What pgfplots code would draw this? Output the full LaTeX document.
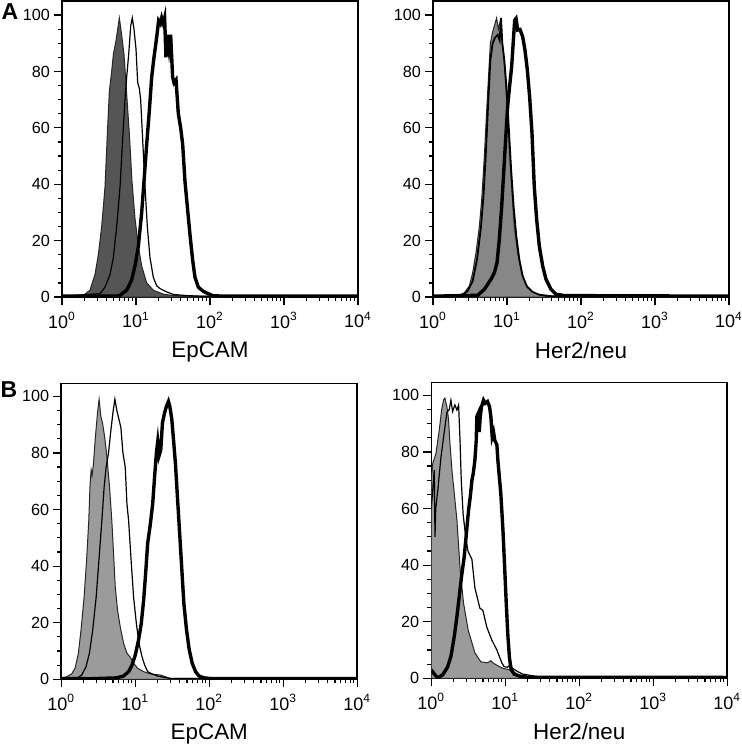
\documentclass[border=0pt]{standalone}
\usepackage{fontspec}
\setmainfont{Liberation Sans}
\usepackage{pgfplots}
\pgfplotsset{compat=1.18}
\definecolor{fillA}{RGB}{85,85,85}
\definecolor{fillB}{RGB}{135,135,135}
\definecolor{fillC}{RGB}{155,155,155}
\pgfplotsset{
 facs/.style={
  scale only axis, width=148pt, height=148pt,
  anchor=south west,
  xmin=0, xmax=4, ymin=0,
  xtick={0,1,2,3,4},
  xticklabels={10\textsuperscript{0},10\textsuperscript{1},10\textsuperscript{2},10\textsuperscript{3},10\textsuperscript{4}},
  minor xtick={0.301,0.477,0.602,0.699,0.778,0.845,0.903,0.954,
               1.301,1.477,1.602,1.699,1.778,1.845,1.903,1.954,
               2.301,2.477,2.602,2.699,2.778,2.845,2.903,2.954,
               3.301,3.477,3.602,3.699,3.778,3.845,3.903,3.954},
  ytick={0,20,40,60,80,100}, minor y tick num=3,
  tick pos=left, tick align=outside,
  major tick length=4pt, minor tick length=2pt,
  tick style={black, line width=0.6pt},
  axis line style={line width=0.8pt},
  /pgf/number format/assume math mode=true,
  yticklabel style={font=\fontsize{8.1}{10}\selectfont, xshift=1.5pt},
  xticklabel style={font=\fontsize{9}{11}\selectfont},
  xlabel style={font=\fontsize{11.2}{13}\selectfont},
 },
 fillcurve/.style={draw=black!85, line width=0.5pt, fill=#1},
 thincurve/.style={black, line width=0.6pt},
 thickcurve/.style={black, line width=1.7pt},
}
\begin{document}
\begin{tikzpicture}
\path[use as bounding box] (0,0) rectangle (371pt,373pt);
% ---------- Top left ----------
\begin{axis}[facs, at={(31pt,224.5pt)}, ymax=105, xlabel={EpCAM}]
\addplot[fillcurve=fillA] coordinates {(0,0.3) (0.018,0.3) (0.288,0.6) (0.378,2.4) (0.446,8) (0.491,15) (0.536,25) (0.581,39) (0.613,58) (0.640,73) (0.671,80) (0.694,86) (0.730,91) (0.775,99) (0.806,93) (0.838,86) (0.874,72) (0.910,58) (0.946,41) (0.986,28) (1.032,18) (1.077,11) (1.144,5) (1.234,2.4) (1.369,1) (1.505,0.5) (1.775,0.3) (4,0.3)} \closedcycle;
\addplot[thincurve] coordinates {(0,0.3) (0.514,1.2) (0.581,3.5) (0.649,8) (0.694,14) (0.739,25) (0.784,39) (0.820,56) (0.851,70) (0.874,78) (0.901,86) (0.928,96) (0.950,99) (0.973,95) (1.000,88) (1.023,76) (1.045,74) (1.063,70) (1.090,56) (1.122,39) (1.153,25) (1.189,14) (1.234,7) (1.279,4) (1.324,3) (1.414,1.8) (1.505,0.9) (1.685,0.5) (1.865,0.3) (4,0.3)};
\addplot[thickcurve] coordinates {(0,0.3) (0.739,0.3) (0.784,0.6) (0.874,2.4) (0.941,6) (0.986,11) (1.032,18) (1.077,30) (1.108,41) (1.144,54) (1.180,66) (1.212,78) (1.243,85) (1.279,92) (1.306,98) (1.329,97) (1.347,99) (1.369,97) (1.387,99) (1.405,85) (1.423,93) (1.446,88) (1.468,93) (1.495,78) (1.514,76) (1.541,77) (1.572,65) (1.604,60) (1.631,54) (1.662,41) (1.694,32) (1.730,22) (1.766,13) (1.797,7) (1.842,3.5) (1.910,2) (1.977,1.2) (2.045,0.4) (2.315,0.3) (4,0.3)};
\end{axis}
% ---------- Top right ----------
\begin{axis}[facs, at={(216.5pt,224.5pt)}, ymax=105, xlabel={Her2/neu}]
\addplot[fillcurve=fillB] coordinates {(0,0.3) (0.356,0.7) (0.423,1.5) (0.491,3.9) (0.536,8.6) (0.581,15.7) (0.626,25) (0.658,34.5) (0.694,50) (0.725,66) (0.752,79) (0.775,90) (0.806,94) (0.838,97) (0.860,99) (0.883,95) (0.910,98) (0.928,92) (0.955,86) (0.977,78) (1.000,68) (1.032,52) (1.068,37) (1.099,25) (1.144,15.7) (1.198,8.6) (1.257,4.5) (1.324,2.1) (1.414,0.9) (1.550,0.3) (4,0.3)} \closedcycle;
\addplot[black, line width=0.9pt] coordinates {(0,0.3) (0.401,0.7) (0.468,2.1) (0.536,5.7) (0.595,13.3) (0.649,25) (0.685,37) (0.716,52) (0.748,70) (0.775,84) (0.806,90) (0.838,92) (0.874,93) (0.901,91) (0.919,99) (0.937,90) (0.964,84) (0.991,75) (1.018,63) (1.054,46) (1.090,32) (1.126,21.6) (1.167,13.3) (1.212,7.4) (1.270,3.7) (1.347,1.8) (1.437,0.8) (1.595,0.3) (4,0.3)};
\addplot[thickcurve] coordinates {(0,0.3) (0.604,0.6) (0.694,2.7) (0.784,6.3) (0.829,8.6) (0.865,12.1) (0.896,20.4) (0.928,32) (0.955,44) (0.982,56) (1.009,67.6) (1.036,75) (1.063,81.7) (1.086,91) (1.104,98.2) (1.122,98.8) (1.144,94.7) (1.176,94.9) (1.212,92.3) (1.243,87.6) (1.275,80.5) (1.306,71) (1.338,58) (1.369,39) (1.401,27.5) (1.437,18) (1.482,11) (1.527,6.3) (1.595,2.7) (1.662,1) (1.775,0.5) (4,0.3)};
\end{axis}
% ---------- Bottom left ----------
\begin{axis}[facs, at={(30.65pt,33.35pt)}, ymax=104.6, xlabel={EpCAM}]
\addplot[fillcurve=fillC] coordinates {(0,0.4) (0.072,0.9) (0.140,1.9) (0.186,3.9) (0.231,9.2) (0.267,17.5) (0.308,29) (0.344,43) (0.371,56) (0.389,69) (0.403,74) (0.416,72) (0.434,76) (0.462,86) (0.489,94) (0.511,99) (0.534,93) (0.557,90.6) (0.584,86) (0.615,79) (0.652,68) (0.683,56) (0.706,44.6) (0.729,32.8) (0.760,24.5) (0.796,18.6) (0.842,12.7) (0.887,9.2) (0.932,7.8) (0.977,5.7) (1.032,3.9) (1.113,2.7) (1.204,1.9) (1.339,1.5) (1.407,0.9) (1.475,0.3) (4,0.3)} \closedcycle;
\addplot[thincurve] coordinates {(0,0.3) (0.208,0.35) (0.276,1.5) (0.335,4.5) (0.380,9.2) (0.425,17.5) (0.471,29) (0.511,43) (0.548,56) (0.579,68) (0.606,75) (0.638,80) (0.670,88) (0.697,94) (0.724,99) (0.751,95) (0.778,92) (0.805,89) (0.833,80) (0.864,75) (0.887,62) (0.910,56) (0.941,43) (0.977,29) (1.014,19.8) (1.050,12.7) (1.090,8) (1.127,5) (1.167,2.7) (1.226,1.9) (1.294,1.2) (1.385,0.7) (1.475,0.3) (4,0.3)};
\addplot[thickcurve] coordinates {(0,0.3) (0.389,0.2) (0.751,0.5) (0.842,1.2) (0.910,2.7) (0.955,5) (1.000,8.6) (1.045,14) (1.081,19.8) (1.113,28) (1.140,37.5) (1.167,48) (1.204,55) (1.235,62) (1.262,72) (1.285,80) (1.303,84) (1.321,79) (1.344,81) (1.367,90.6) (1.394,94) (1.421,96.5) (1.448,98.2) (1.466,96.5) (1.493,92) (1.520,83.5) (1.543,76) (1.575,62) (1.602,50.5) (1.629,38.7) (1.656,26.9) (1.692,17.5) (1.729,10.4) (1.769,5.7) (1.814,2.7) (1.860,1.2) (1.928,0.5) (2.018,0.3) (4,0.3)};
\end{axis}
% ---------- Bottom right ----------
\begin{axis}[facs, at={(215.65pt,33.85pt)}, ymax=104.6, xlabel={Her2/neu}]
\addplot[fillcurve=fillC] coordinates {(0,70) (0.020,76) (0.063,79.5) (0.108,87.8) (0.139,94.8) (0.166,98.4) (0.184,99) (0.211,96) (0.234,91.3) (0.252,83) (0.279,73.6) (0.346,56) (0.391,38) (0.436,26.5) (0.499,17) (0.589,9) (0.670,5.8) (0.760,5.5) (0.805,6.2) (0.841,5.3) (0.895,4.5) (0.970,3.5) (1.075,2.9) (1.143,1.8) (1.210,0.8) (1.300,0.5) (4,0.3)} \closedcycle;
\addplot[thincurve] coordinates {(0,60) (0.040,73.6) (0.050,50) (0.060,60) (0.090,67) (0.130,78) (0.175,87) (0.211,94) (0.243,95) (0.265,98.3) (0.288,94.3) (0.319,96.6) (0.346,94.8) (0.369,96.6) (0.387,85) (0.405,70) (0.430,58) (0.465,50) (0.495,45) (0.549,42) (0.589,32) (0.656,24.8) (0.697,24) (0.751,18) (0.818,13.5) (0.886,10) (0.954,5.4) (0.985,4.1) (1.030,3.9) (1.066,4.7) (1.098,3.5) (1.165,2.4) (1.233,1.5) (1.300,1.2) (1.435,0.6) (1.525,0.35) (4,0.3)};
\addplot[thickcurve] coordinates {(0,3) (0.040,1.5) (0.085,0.2) (0.153,1.2) (0.220,4) (0.265,7.7) (0.310,14.7) (0.346,21.8) (0.378,29) (0.409,36) (0.445,43) (0.477,52) (0.504,59.5) (0.526,64) (0.549,70) (0.567,72.4) (0.589,77) (0.607,84) (0.616,92.5) (0.634,93.6) (0.648,87) (0.661,92.5) (0.679,96) (0.706,98.3) (0.729,97.2) (0.760,97.8) (0.787,96) (0.805,92.5) (0.823,85.4) (0.841,87) (0.859,84) (0.886,82.6) (0.900,77) (0.940,65) (0.967,53) (0.990,40) (1.012,27) (1.035,15) (1.057,7) (1.080,3) (1.120,1.5) (1.188,0.8) (1.300,0.35) (4,0.3)};
\end{axis}
\node[font=\fontsize{11.5}{14}\bfseries\selectfont] at (5pt,367pt) {A};
\node[font=\fontsize{11.5}{14}\bfseries\selectfont] at (4.5pt,178pt) {B};
\end{tikzpicture}
\end{document}
